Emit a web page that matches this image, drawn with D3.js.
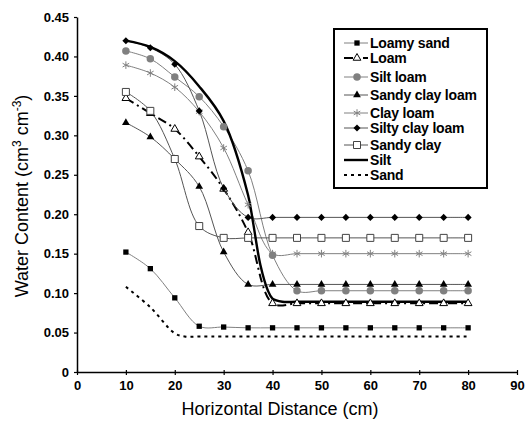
<!DOCTYPE html>
<html>
<head>
<meta charset="utf-8">
<script src="https://cdn.jsdelivr.net/npm/d3@7"></script>
<style>
  html, body { margin: 0; padding: 0; background: #fff; }
  svg { display: block; font-family: "Liberation Sans", Arial, sans-serif; }
</style>
</head>
<body>
<svg id="chart" width="525" height="430"></svg>
<script>
// Measured distances (cm) for the soil series
const distance = [10, 15, 20, 25, 30, 35, 40, 45, 50, 55, 60, 65, 70, 75, 80];

const loamySand     = [0.152, 0.131, 0.094, 0.058, 0.057, 0.056, 0.056, 0.056, 0.056, 0.056, 0.056, 0.056, 0.056, 0.056, 0.056];
const loam          = [0.347, 0.328, 0.308, 0.273, 0.232, 0.177, 0.087, 0.087, 0.087, 0.087, 0.087, 0.087, 0.087, 0.087, 0.087];
const siltLoam      = [0.407, 0.397, 0.374, 0.349, 0.311, 0.255, 0.148, 0.103, 0.103, 0.103, 0.103, 0.103, 0.103, 0.103, 0.103];
const sandyClayLoam = [0.316, 0.298, 0.270, 0.235, 0.152, 0.111, 0.111, 0.111, 0.111, 0.111, 0.111, 0.111, 0.111, 0.111, 0.111];
const clayLoam      = [0.389, 0.379, 0.361, 0.330, 0.284, 0.212, 0.150, 0.150, 0.150, 0.150, 0.150, 0.150, 0.150, 0.150, 0.150];
const siltyClayLoam = [0.420, 0.411, 0.390, 0.331, 0.233, 0.196, 0.196, 0.196, 0.196, 0.196, 0.196, 0.196, 0.196, 0.196, 0.196];
const sandyClay     = [0.355, 0.331, 0.270, 0.185, 0.170, 0.170, 0.170, 0.170, 0.170, 0.170, 0.170, 0.170, 0.170, 0.170, 0.170];

// Simulated profiles (lines only)
const siltX   = [10, 15, 20, 25, 30, 35, 36, 37.5, 39, 40, 42, 45, 50, 60, 70, 80];
const silt    = [0.420, 0.412, 0.394, 0.362, 0.318, 0.224, 0.190, 0.136, 0.104, 0.093, 0.089, 0.089, 0.089, 0.089, 0.089, 0.089];
const sandX   = [10, 15, 20, 22, 25, 30, 40, 50, 60, 70, 80];
const sand    = [0.108, 0.082, 0.049, 0.045, 0.045, 0.045, 0.045, 0.045, 0.045, 0.045, 0.045];

const xTicks = [0, 10, 20, 30, 40, 50, 60, 70, 80, 90];
const yTicks = [0, 0.05, 0.10, 0.15, 0.20, 0.25, 0.30, 0.35, 0.40, 0.45];

const legendLabels = ["Loamy sand", "Loam", "Silt loam", "Sandy clay loam", "Clay loam",
                      "Silty clay loam", "Sandy clay", "Silt", "Sand"];

const svg = d3.select("#chart");
const x = d3.scaleLinear().domain([0, 90]).range([77, 517]);
const y = d3.scaleLinear().domain([0, 0.45]).range([372, 17]);

const GREY = "#808080";
const DARK = "#555555";

// Series styles
const series = [
  { name: "Loamy sand", xs: distance, ys: loamySand, stroke: GREY, width: 1, dash: null,
    sym: d3.symbolSquare, size: 28, fill: "#000", mstroke: "none" },
  { name: "Loam", xs: distance, ys: loam, stroke: "#000", width: 2, dash: "9,4,2,4",
    sym: d3.symbolTriangle, size: 26, fill: "#fff", mstroke: "#000" },
  { name: "Silt loam", xs: distance, ys: siltLoam, stroke: GREY, width: 1, dash: null,
    sym: d3.symbolCircle, size: 44, fill: GREY, mstroke: "none" },
  { name: "Sandy clay loam", xs: distance, ys: sandyClayLoam, stroke: DARK, width: 1, dash: null,
    sym: d3.symbolTriangle, size: 26, fill: "#000", mstroke: "none" },
  { name: "Clay loam", xs: distance, ys: clayLoam, stroke: GREY, width: 1, dash: null,
    sym: d3.symbolAsterisk, size: 40, fill: "none", mstroke: GREY },
  { name: "Silty clay loam", xs: distance, ys: siltyClayLoam, stroke: DARK, width: 1, dash: null,
    sym: d3.symbolSquare, size: 25, rotate: 45, fill: "#000", mstroke: "none" },
  { name: "Sandy clay", xs: distance, ys: sandyClay, stroke: DARK, width: 1, dash: null,
    sym: d3.symbolSquare, size: 49, fill: "#fff", mstroke: "#444" },
  { name: "Silt", xs: siltX, ys: silt, stroke: "#000", width: 2.4, dash: null, sym: null },
  { name: "Sand", xs: sandX, ys: sand, stroke: "#000", width: 2, dash: "3,4", sym: null }
];

const line = d3.line()
  .x(d => x(d[0]))
  .y(d => y(d[1]))
  .curve(d3.curveCatmullRom.alpha(0.5));

// Axes
const xAxis = svg.append("g").attr("transform", `translate(0,${y(0)})`)
  .call(d3.axisBottom(x).tickValues(xTicks).tickSize(3).tickSizeOuter(0).tickPadding(6));
const yAxis = svg.append("g").attr("transform", `translate(${x(0)},0)`)
  .call(d3.axisLeft(y).tickValues(yTicks).tickSize(3).tickSizeOuter(0).tickPadding(5)
    .tickFormat(d => d === 0 ? "0" : d.toFixed(2)));

[xAxis, yAxis].forEach(g => {
  g.select(".domain").attr("stroke", "#000").attr("stroke-width", 1.5);
  g.selectAll(".tick line").attr("stroke", "#000").attr("stroke-width", 1.2);
  g.selectAll(".tick text").attr("fill", "#000").attr("font-size", 13)
    .attr("font-weight", "bold").attr("font-family", "Liberation Sans, Arial, sans-serif");
});
xAxis.selectAll(".tick line").attr("y1", -2);

// Axis titles
svg.append("text")
  .attr("x", 280).attr("y", 415)
  .attr("text-anchor", "middle")
  .attr("font-size", 18)
  .text("Horizontal Distance (cm)");

const yt = svg.append("text")
  .attr("transform", "translate(28,196) rotate(-90)")
  .attr("text-anchor", "middle")
  .attr("font-size", 18);
yt.append("tspan").text("Water Content (cm");
yt.append("tspan").attr("font-size", 12).attr("dy", -7).text("3");
yt.append("tspan").attr("dy", 7).text(" cm");
yt.append("tspan").attr("font-size", 12).attr("dy", -7).text("-3");
yt.append("tspan").attr("dy", 7).text(")");

// Lines
const plot = svg.append("g");
series.forEach(s => {
  const pts = s.xs.map((d, i) => [d, s.ys[i]]);
  plot.append("path")
    .attr("d", line(pts))
    .attr("fill", "none")
    .attr("stroke", s.stroke)
    .attr("stroke-width", s.width)
    .attr("stroke-dasharray", s.dash);
});

// Markers
function drawMarker(g, s, cx, cy) {
  g.append("path")
    .attr("d", d3.symbol().type(s.sym).size(s.size)())
    .attr("transform", `translate(${cx},${cy})` + (s.rotate ? ` rotate(${s.rotate})` : ""))
    .attr("fill", s.fill)
    .attr("stroke", s.mstroke)
    .attr("stroke-width", 1);
}
series.forEach(s => {
  if (!s.sym) return;
  s.xs.forEach((d, i) => drawMarker(plot, s, x(d), y(s.ys[i])));
});

// Legend
const lg = svg.append("g");
lg.append("rect")
  .attr("x", 334).attr("y", 29).attr("width", 153).attr("height", 159)
  .attr("fill", "#fff").attr("stroke", "#000").attr("stroke-width", 2);
const rowY = [43, 58, 77, 95, 113, 128, 145, 160, 175];
series.forEach((s, i) => {
  const ry = rowY[i];
  lg.append("line")
    .attr("x1", 344).attr("x2", 368).attr("y1", ry).attr("y2", ry)
    .attr("stroke", s.stroke).attr("stroke-width", s.width)
    .attr("stroke-dasharray", s.dash);
  if (s.sym) drawMarker(lg, s, 357, ry);
  lg.append("text")
    .attr("x", 370).attr("y", ry + 5)
    .attr("font-size", 14).attr("font-weight", "bold")
    .attr("letter-spacing", -0.2)
    .text(legendLabels[i]);
});
</script>
</body>
</html>
